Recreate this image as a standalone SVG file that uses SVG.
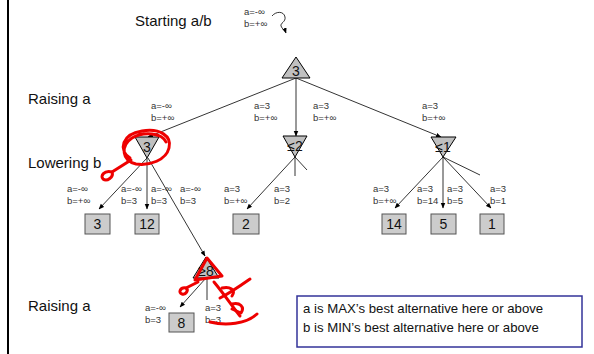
<svg xmlns="http://www.w3.org/2000/svg" width="594" height="354" viewBox="0 0 594 354">
<style>
.t{font-family:"Liberation Sans",Arial,sans-serif;fill:#111}
.big{font-size:15px}
.lbl{font-size:9.5px;fill:#333}
.num{font-size:14px;text-anchor:middle}
.tri{fill:#c0c0c0;stroke:#000;stroke-width:1}
.box{fill:#cccccc;stroke:#555;stroke-width:1}
.e{stroke:#000;stroke-width:0.8;fill:none}
.red{stroke:#e00;stroke-width:3;fill:none;stroke-linecap:round;stroke-linejoin:round}
</style>
<defs>
<marker id="ah" viewBox="0 0 10 10" refX="9" refY="5" markerWidth="7" markerHeight="7" orient="auto">
<path d="M0,1 L10,5 L0,9 z" fill="#000"/>
</marker>
</defs>
<rect width="594" height="354" fill="#fff"/>
<line x1="8" y1="0" x2="8" y2="354" stroke="#000" stroke-width="2"/>

<g id="side-labels">
<text class="t big" x="135" y="26">Starting a/b</text>
<text class="t big" x="28" y="104">Raising a</text>
<text class="t big" x="28" y="168">Lowering b</text>
<text class="t big" x="28" y="311">Raising a</text>
<text class="t lbl" x="244" y="15">a=-∞</text>
<text class="t lbl" x="244" y="27">b=+∞</text>
</g>

<g id="connectors">
<path class="e" d="M272,16 C276,11 284,11 285,17 C286,22 280,23 281,26 C282,29 285,30 286,33" marker-end="url(#ah)"/>
<line class="e" x1="296" y1="78" x2="148" y2="137" marker-end="url(#ah)"/>
<line class="e" x1="296" y1="78" x2="296" y2="136" marker-end="url(#ah)"/>
<line class="e" x1="296" y1="78" x2="441" y2="137" marker-end="url(#ah)"/>
<line class="e" x1="147" y1="158" x2="99" y2="209" marker-end="url(#ah)"/>
<line class="e" x1="147" y1="158" x2="147" y2="209" marker-end="url(#ah)"/>
<line class="e" x1="148" y1="158" x2="205" y2="256" marker-end="url(#ah)"/>
<line class="e" x1="295" y1="157" x2="247" y2="209" marker-end="url(#ah)"/>
<line class="e" x1="295" y1="157" x2="295" y2="176"/>
<line class="e" x1="295" y1="157" x2="307" y2="170"/>
<line class="e" x1="443" y1="157" x2="395" y2="208" marker-end="url(#ah)"/>
<line class="e" x1="443" y1="157" x2="443" y2="208" marker-end="url(#ah)"/>
<line class="e" x1="443" y1="157" x2="491" y2="208" marker-end="url(#ah)"/>
<line class="e" x1="443" y1="157" x2="480" y2="175"/>
<line class="e" x1="206" y1="278" x2="180" y2="307" marker-end="url(#ah)"/>
<line class="e" x1="207" y1="278" x2="207" y2="300"/>
</g>

<g id="edge-labels">
<text class="t lbl" x="151" y="109">a=-∞</text><text class="t lbl" x="151" y="121">b=+∞</text>
<text class="t lbl" x="254" y="109">a=3</text><text class="t lbl" x="254" y="121">b=+∞</text>
<text class="t lbl" x="313" y="109">a=3</text><text class="t lbl" x="313" y="121">b=+∞</text>
<text class="t lbl" x="422" y="109">a=3</text><text class="t lbl" x="422" y="121">b=+∞</text>
<text class="t lbl" x="67" y="192">a=-∞</text><text class="t lbl" x="67" y="204">b=+∞</text>
<text class="t lbl" x="121" y="192">a=-∞</text><text class="t lbl" x="121" y="204">b=3</text>
<text class="t lbl" x="151" y="192">a=-∞</text><text class="t lbl" x="151" y="204">b=3</text>
<text class="t lbl" x="180" y="192">a=-∞</text><text class="t lbl" x="180" y="204">b=3</text>
<text class="t lbl" x="224" y="192">a=3</text><text class="t lbl" x="224" y="204">b=+∞</text>
<text class="t lbl" x="274" y="192">a=3</text><text class="t lbl" x="274" y="204">b=2</text>
<text class="t lbl" x="373" y="192">a=3</text><text class="t lbl" x="373" y="204">b=+∞</text>
<text class="t lbl" x="417" y="192">a=3</text><text class="t lbl" x="417" y="204">b=14</text>
<text class="t lbl" x="447" y="192">a=3</text><text class="t lbl" x="447" y="204">b=5</text>
<text class="t lbl" x="490" y="192">a=3</text><text class="t lbl" x="490" y="204">b=1</text>
<text class="t lbl" x="145" y="311">a=-∞</text><text class="t lbl" x="145" y="323">b=3</text>
<text class="t lbl" x="205" y="311">a=3</text><text class="t lbl" x="205" y="323">b=3</text>
</g>

<g id="root"><polygon class="tri" points="296,57 282,78 310,78"/><text class="t num" x="296" y="76">3</text></g>
<g id="min-left"><polygon class="tri" points="135,137 159,137 147,158"/><text class="t num" x="147" y="152">3</text></g>
<g id="min-mid"><polygon class="tri" points="283,136 307,136 295,157"/><text class="t num" x="295" y="151">≤2</text></g>
<g id="min-right"><polygon class="tri" points="431,137 456,137 443,157"/><text class="t num" x="443" y="152">≤1</text></g>
<g id="max-8"><polygon class="tri" points="206,257 193,278 219,278"/><text class="t num" x="206" y="276">≥8</text></g>

<g id="leaf-3"><rect class="box" x="85" y="214" width="25" height="20"/><text class="t num" x="97.5" y="229">3</text></g>
<g id="leaf-12"><rect class="box" x="135" y="214" width="24" height="20"/><text class="t num" x="147" y="229">12</text></g>
<g id="leaf-2"><rect class="box" x="233" y="214" width="26" height="20"/><text class="t num" x="246" y="229">2</text></g>
<g id="leaf-14"><rect class="box" x="382" y="214" width="24" height="20"/><text class="t num" x="394" y="229">14</text></g>
<g id="leaf-5"><rect class="box" x="431" y="214" width="25" height="20"/><text class="t num" x="443.5" y="229">5</text></g>
<g id="leaf-1"><rect class="box" x="480" y="214" width="24" height="20"/><text class="t num" x="492" y="229">1</text></g>
<g id="leaf-8"><rect class="box" x="169" y="313" width="25" height="19"/><text class="t num" x="181.5" y="328">8</text></g>

<g id="legend">
<rect x="297" y="296" width="285" height="51" fill="#fff" stroke="#333399" stroke-width="1.5"/>
<text class="t" style="font-size:13.2px" x="303" y="313">a is MAX’s best alternative here or above</text>
<text class="t" style="font-size:13.2px" x="303" y="332">b is MIN’s best alternative here or above</text>
</g>

<g id="annotations">
<path class="red" d="M130,158 C118,150 122,134 142,131 C160,128 172,136 169,148 C166,160 150,166 136,164 C122,161 120,146 132,138 C144,131 162,133 166,142"/>
<path class="red" d="M131,160 L112,172"/>
<path class="red" d="M112,172 C104,170 100,176 103,179 C107,182 114,177 112,172 Z"/>
<path class="red" d="M207,258 L195,280 L222,276 Z"/>
<path class="red" d="M198,282 L186,288"/>
<path class="red" d="M186,288 C180,287 178,293 182,294 C186,295 189,290 186,288 Z"/>
<path class="red" d="M214,282 C224,294 232,306 240,316"/>
<path class="red" d="M250,279 C240,286 228,294 220,298"/>
<path class="red" d="M222,288 C230,286 236,290 232,296"/>
<path class="red" d="M232,304 C240,302 245,307 241,313 L232,309"/>
<path class="red" d="M210,322 C226,326 246,324 257,314"/>
</g>
</svg>
